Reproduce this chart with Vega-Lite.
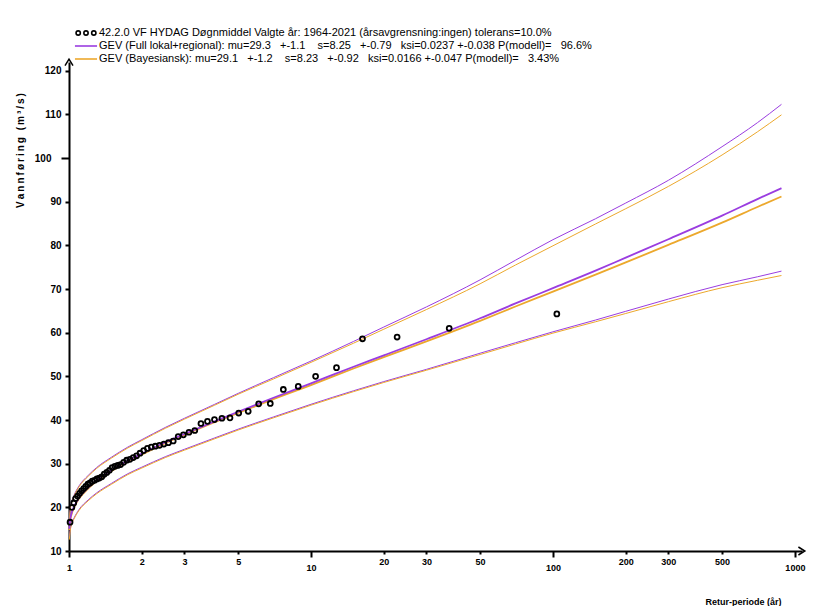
{
  "$schema": "https://vega.github.io/schema/vega-lite/v6.json",
  "width": 733,
  "height": 489,
  "autosize": "none",
  "padding": {"left": 69, "top": 62, "right": 14, "bottom": 55},
  "background": "white",
  "config": {"view": {"stroke": null}, "font": "Liberation Sans"},
  "datasets": {
    "obs": [
      {"T": 103.79, "obs": 64.3}, {"T": 37.26, "obs": 61.0}, {"T": 22.70, "obs": 59.0}, {"T": 16.33, "obs": 58.6},
      {"T": 12.75, "obs": 52.0}, {"T": 10.45, "obs": 50.0}, {"T": 8.860, "obs": 47.7}, {"T": 7.688, "obs": 47.0},
      {"T": 6.790, "obs": 43.8}, {"T": 6.080, "obs": 43.7}, {"T": 5.504, "obs": 42.0}, {"T": 5.028, "obs": 41.6},
      {"T": 4.627, "obs": 40.5}, {"T": 4.286, "obs": 40.4}, {"T": 3.992, "obs": 40.1}, {"T": 3.735, "obs": 39.7},
      {"T": 3.510, "obs": 39.2}, {"T": 3.310, "obs": 37.6}, {"T": 3.132, "obs": 37.2}, {"T": 2.971, "obs": 36.6},
      {"T": 2.827, "obs": 36.2}, {"T": 2.696, "obs": 35.2}, {"T": 2.576, "obs": 34.8}, {"T": 2.467, "obs": 34.5},
      {"T": 2.366, "obs": 34.2}, {"T": 2.274, "obs": 34.0}, {"T": 2.188, "obs": 33.8}, {"T": 2.109, "obs": 33.5},
      {"T": 2.035, "obs": 33.0}, {"T": 1.966, "obs": 32.4}, {"T": 1.902, "obs": 31.8}, {"T": 1.842, "obs": 31.4},
      {"T": 1.785, "obs": 31.0}, {"T": 1.732, "obs": 30.8}, {"T": 1.682, "obs": 30.3}, {"T": 1.634, "obs": 29.8},
      {"T": 1.590, "obs": 29.6}, {"T": 1.547, "obs": 29.4}, {"T": 1.507, "obs": 29.1}, {"T": 1.469, "obs": 28.5},
      {"T": 1.433, "obs": 28.0}, {"T": 1.398, "obs": 27.6}, {"T": 1.366, "obs": 27.0}, {"T": 1.334, "obs": 26.7},
      {"T": 1.304, "obs": 26.5}, {"T": 1.276, "obs": 26.2}, {"T": 1.248, "obs": 26.0}, {"T": 1.222, "obs": 25.6},
      {"T": 1.197, "obs": 25.3}, {"T": 1.173, "obs": 24.8}, {"T": 1.150, "obs": 24.3}, {"T": 1.127, "obs": 23.8},
      {"T": 1.106, "obs": 23.2}, {"T": 1.085, "obs": 22.6}, {"T": 1.065, "obs": 22.0}, {"T": 1.046, "obs": 21.0},
      {"T": 1.028, "obs": 20.0}, {"T": 1.010, "obs": 16.6}
    ],
    "curves": [
      {"T": 1.003, "fl": 13.1, "fc": 15.1, "fu": 17.3, "bl": 12.6, "bc": 14.8, "bu": 17.0},
      {"T": 1.01, "fl": 14.6, "fc": 16.9, "fu": 19.2, "bl": 14.3, "bc": 16.7, "bu": 19.0},
      {"T": 1.03, "fl": 16.6, "fc": 19.1, "fu": 21.6, "bl": 16.4, "bc": 18.8, "bu": 21.4},
      {"T": 1.05, "fl": 17.6, "fc": 20.2, "fu": 22.8, "bl": 17.4, "bc": 20.0, "bu": 22.6},
      {"T": 1.1, "fl": 19.5, "fc": 22.2, "fu": 24.9, "bl": 19.3, "bc": 22.0, "bu": 24.7},
      {"T": 1.2, "fl": 21.7, "fc": 24.5, "fu": 27.3, "bl": 21.5, "bc": 24.3, "bu": 27.1},
      {"T": 1.3, "fl": 23.3, "fc": 26.2, "fu": 29.1, "bl": 23.1, "bc": 26.0, "bu": 28.9},
      {"T": 1.5, "fl": 25.5, "fc": 28.5, "fu": 31.5, "bl": 25.3, "bc": 28.3, "bu": 31.3},
      {"T": 1.75, "fl": 27.7, "fc": 30.7, "fu": 33.8, "bl": 27.5, "bc": 30.5, "bu": 33.6},
      {"T": 2, "fl": 29.2, "fc": 32.3, "fu": 35.5, "bl": 29.0, "bc": 32.1, "bu": 35.3},
      {"T": 2.5, "fl": 31.6, "fc": 34.9, "fu": 38.3, "bl": 31.4, "bc": 34.7, "bu": 38.1},
      {"T": 3, "fl": 33.3, "fc": 36.8, "fu": 40.4, "bl": 33.1, "bc": 36.6, "bu": 40.2},
      {"T": 4, "fl": 35.9, "fc": 39.7, "fu": 43.6, "bl": 35.7, "bc": 39.5, "bu": 43.4},
      {"T": 5, "fl": 37.9, "fc": 41.9, "fu": 46.1, "bl": 37.7, "bc": 41.6, "bu": 45.9},
      {"T": 7, "fl": 40.7, "fc": 45.1, "fu": 49.7, "bl": 40.5, "bc": 44.8, "bu": 49.4},
      {"T": 10, "fl": 43.6, "fc": 48.4, "fu": 53.5, "bl": 43.4, "bc": 48.0, "bu": 53.2},
      {"T": 15, "fl": 46.7, "fc": 52.2, "fu": 58.0, "bl": 46.5, "bc": 51.8, "bu": 57.6},
      {"T": 20, "fl": 48.8, "fc": 54.8, "fu": 61.3, "bl": 48.6, "bc": 54.4, "bu": 60.8},
      {"T": 30, "fl": 51.6, "fc": 58.5, "fu": 65.9, "bl": 51.4, "bc": 58.0, "bu": 65.3},
      {"T": 50, "fl": 55.3, "fc": 63.3, "fu": 72.1, "bl": 55.0, "bc": 62.7, "bu": 71.2},
      {"T": 70, "fl": 57.7, "fc": 66.7, "fu": 76.6, "bl": 57.4, "bc": 66.0, "bu": 75.5},
      {"T": 100, "fl": 60.2, "fc": 70.2, "fu": 81.3, "bl": 59.9, "bc": 69.4, "bu": 79.9},
      {"T": 150, "fl": 62.9, "fc": 74.2, "fu": 86.1, "bl": 62.5, "bc": 73.3, "bu": 84.9},
      {"T": 200, "fl": 64.9, "fc": 77.2, "fu": 89.7, "bl": 64.4, "bc": 76.1, "bu": 88.4},
      {"T": 300, "fl": 67.7, "fc": 81.4, "fu": 94.9, "bl": 67.1, "bc": 80.1, "bu": 93.5},
      {"T": 500, "fl": 71.0, "fc": 86.8, "fu": 102.6, "bl": 70.3, "bc": 85.2, "bu": 100.7},
      {"T": 700, "fl": 72.8, "fc": 90.6, "fu": 108.1, "bl": 72.0, "bc": 88.8, "bu": 106.0},
      {"T": 880, "fl": 74.1, "fc": 93.1, "fu": 112.3, "bl": 73.1, "bc": 91.2, "bu": 109.9}
    ]
  },
  "encoding": {
    "x": {
      "field": "T", "type": "quantitative",
      "scale": {"type": "log", "domain": [1, 1070], "nice": false},
      "axis": {
        "values": [1, 2, 3, 5, 10, 20, 30, 50, 100, 200, 300, 500, 1000],
        "format": "d",
        "grid": false,
        "title": "Retur-periode (år)",
        "titleX": 674, "titleY": 50, "titleAlign": "center", "titleBaseline": "middle",
        "titleFont": "Liberation Sans", "titleFontSize": 9, "titleFontWeight": "bold", "titleColor": "black",
        "labelFont": "Liberation Sans", "labelFontSize": 9, "labelFontWeight": "bold", "labelColor": "black",
        "labelFlush": false, "labelOverlap": false,
        "tickSize": {"condition": {"test": "datum.value == 1 || datum.value == 10 || datum.value == 100 || datum.value == 1000", "value": 6}, "value": 3},
        "labelPadding": {"condition": {"test": "datum.value == 1 || datum.value == 10 || datum.value == 100 || datum.value == 1000", "value": 6}, "value": 3},
        "tickWidth": 2, "tickColor": "black",
        "domainColor": "black", "domainWidth": 2
      }
    },
    "y": {
      "field": "Q", "type": "quantitative",
      "scale": {"domain": [10, 122], "nice": false, "zero": false},
      "axis": {
        "values": [10, 20, 30, 40, 50, 60, 70, 80, 90, 100, 110, 120],
        "grid": false,
        "title": "V\u2009a\u2009n\u2009n\u2009f\u2009ø\u2009r\u2009i\u2009n\u2009g\u2009 \u2009(\u2009m\u2009³\u2009/\u2009s\u2009)",
        "titleX": -49, "titleY": 88, "titleAngle": 270, "titleAlign": "center", "titleBaseline": "middle",
        "titleFont": "Liberation Sans", "titleFontSize": 10, "titleFontWeight": "bold", "titleColor": "black",
        "labelFont": "Liberation Sans", "labelFontSize": 10, "labelFontWeight": "bold", "labelColor": "black",
        "labelFlush": false, "labelOverlap": false,
        "labelPadding": {"condition": {"test": "datum.value == 100", "value": 10}, "value": 4},
        "tickSize": {"condition": {"test": "datum.value == 100", "value": 8}, "value": 4},
        "tickWidth": 2, "tickColor": "black",
        "domainColor": "black", "domainWidth": 2
      }
    },
    "color": {
      "field": "k", "type": "nominal",
      "scale": {
        "domain": ["obs", "fc", "bc", "fl", "fu", "bl", "bu"],
        "range": ["#000000", "#9a3de0", "#eca82c", "#9a3de0", "#9a3de0", "#eca82c", "#eca82c"]
      },
      "legend": {
        "values": ["obs", "fc", "bc"],
        "orient": "none", "legendX": 9.5, "legendY": -36.5, "direction": "vertical",
        "title": null, "padding": 0, "rowPadding": 0,
        "symbolSize": 169, "symbolStrokeWidth": 1.6, "labelOffset": 5.5,
        "labelFont": "Liberation Sans", "labelFontSize": 11, "labelColor": "black", "labelLimit": 0,
        "labelExpr": "datum.value === 'obs' ? '42.2.0 VF HYDAG Døgnmiddel Valgte år: 1964-2021 (årsavgrensning:ingen) tolerans=10.0%' : datum.value === 'fc' ? 'GEV (Full lokal+regional): mu=29.3 \u00a0 +-1.1 \u00a0\u00a0 s=8.25 \u00a0 +-0.79 \u00a0 ksi=0.0237 +-0.038 P(modell)= \u00a0 96.6%' : 'GEV (Bayesiansk): mu=29.1 \u00a0 +-1.2 \u00a0\u00a0 s=8.23 \u00a0 +-0.92 \u00a0 ksi=0.0166 +-0.047 P(modell)= \u00a0 3.43%'",
        "encode": {
          "symbols": {
            "update": {
              "shape": {"signal": "datum.value === 'obs' ? 'M-1.53,0A0.33,0.33 0 1,0 -0.87,0A0.33,0.33 0 1,0 -1.53,0ZM-0.33,0A0.33,0.33 0 1,0 0.33,0A0.33,0.33 0 1,0 -0.33,0ZM0.87,0A0.33,0.33 0 1,0 1.53,0A0.33,0.33 0 1,0 0.87,0Z' : 'M-1.7,0L1.7,0'"},
              "fill": {"value": "transparent"},
              "strokeWidth": {"value": 1.6}
            }
          }
        }
      }
    }
  },
  "layer": [
    {
      "data": {"name": "curves"},
      "transform": [{"fold": ["fl", "fu", "bl", "bu"], "as": ["k", "Q"]}],
      "mark": {"type": "line", "strokeWidth": 1, "interpolate": "monotone", "clip": false}
    },
    {
      "data": {"name": "curves"},
      "transform": [{"fold": ["bc", "fc"], "as": ["k", "Q"]}],
      "mark": {"type": "line", "strokeWidth": 1.8, "interpolate": "monotone", "clip": false}
    },
    {
      "data": {"name": "obs"},
      "transform": [{"fold": ["obs"], "as": ["k", "Q"]}],
      "mark": {"type": "point", "filled": false, "size": 24, "strokeWidth": 1.8, "opacity": 1}
    },
    {
      "data": {"values": [{"T": 1, "Q": 122}]},
      "mark": {"type": "point", "shape": "M-1,0.9L0,-0.7L1,0.9", "size": 64, "filled": false, "stroke": "black", "fill": "transparent", "strokeWidth": 1.5, "opacity": 1},
      "encoding": {"color": {"value": "black"}}
    },
    {
      "data": {"values": [{"T": 1070, "Q": 10}]},
      "mark": {"type": "point", "shape": "M-1,0.9L0,-0.7L1,0.9", "angle": 90, "size": 64, "filled": false, "stroke": "black", "fill": "transparent", "strokeWidth": 1.5, "opacity": 1},
      "encoding": {"color": {"value": "black"}}
    }
  ]
}
